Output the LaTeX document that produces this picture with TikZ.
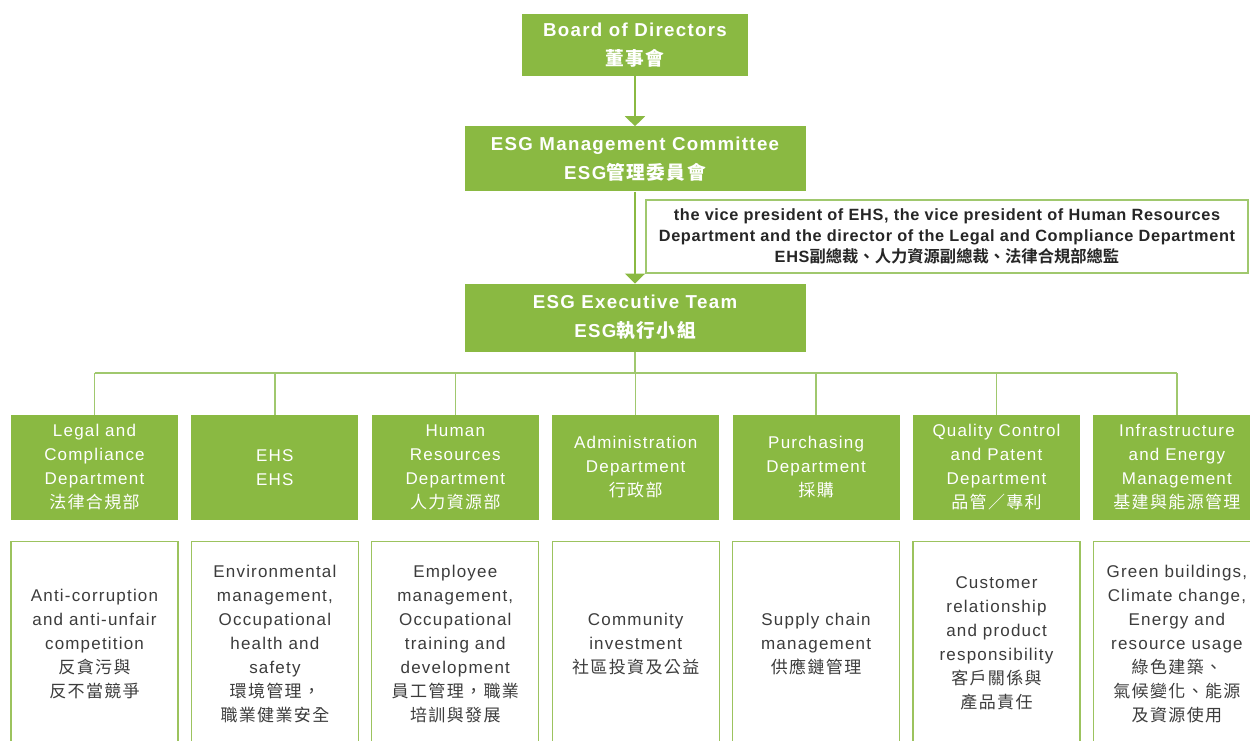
\documentclass[tikz,border=0pt]{standalone}
\usepackage{fontspec}
\setmainfont{Liberation Sans}
\newfontfamily\orgsans[LetterSpace=7]{Liberation Sans}
\newfontfamily\notesans[LetterSpace=4]{Liberation Sans}
\newfontfamily\cjk[LetterSpace=8]{Noto Sans CJK TC}
\usepackage{tikz}
\usetikzlibrary{positioning, arrows.meta}
\definecolor{esggreen}{RGB}{138,185,66}
\definecolor{esgline}{RGB}{160,200,110}
\definecolor{esgtext}{RGB}{60,60,60}
\tikzset{
  >={Triangle[width=20pt, length=10pt]},
  org flow/.style={draw=esggreen, ->, line width=1.5pt},
  org tree/.style={draw=esgline, line width=1.3pt},
  org head/.style={fill=esggreen, text=white, align=center, inner sep=0pt,
    font=\fontsize{18.7}{29}\selectfont\orgsans\bfseries},
  org note/.style={draw=esgline, line width=1.2pt, fill=white, align=center,
    inner sep=0pt, minimum width=602pt, minimum height=73pt, text=black!85,
    font=\fontsize{16.3}{21}\selectfont\notesans\bfseries},
  org dept/.style={fill=esggreen, text=white, align=center, inner sep=0pt,
    minimum width=167pt, minimum height=105pt,
    font=\fontsize{17}{24}\selectfont\orgsans},
  org duty/.style={draw=esggreen!85, line width=1.2pt, fill=white, align=center,
    inner sep=0pt, minimum width=167pt, minimum height=204pt, text=esgtext,
    font=\fontsize{17}{24}\selectfont\orgsans},
}
\begin{document}
\begin{tikzpicture}[x=1pt, y=-1pt]
 \useasboundingbox (0,0) rectangle (1250,741);
 % top of the chain
 \node[org head, minimum width=226pt, minimum height=62pt] (board) at (635,45)
   {Board of Directors\\{\cjk 董事會}};
 \node[org head, minimum width=341pt, minimum height=65pt, below=50pt of board] (mgmt)
   {ESG Management Committee\\ESG{\cjk 管理委員會}};
 \node[org head, minimum width=341pt, minimum height=68pt, below=92pt of mgmt] (exec)
   {ESG Executive Team\\ESG{\cjk 執行小組}};
 \node[org note] (members) at (947,236.5)
   {the vice president of EHS, the vice president of Human Resources\\
    Department and the director of the Legal and Compliance Department\\
    EHS{\fontspec{Noto Sans CJK TC}[BoldFont={Noto Sans CJK TC Bold}]\bfseries 副總裁、人力資源副總裁、法律合規部總監}};
 \draw[org flow] (board)--(mgmt);
 \draw[org flow] (mgmt)--(exec);
 % departments
 \node[org dept] (legal) at (94.5,467.5)
   {Legal and\\Compliance\\Department\\{\cjk 法律合規部}};
 \node[org dept, right=13pt of legal] (ehs) {EHS\\EHS};
 \node[org dept, right=13pt of ehs] (hr)
   {Human\\Resources\\Department\\{\cjk 人力資源部}};
 \node[org dept, right=13pt of hr] (admin)
   {Administration\\Department\\{\cjk 行政部}};
 \node[org dept, right=13pt of admin] (purch)
   {Purchasing\\Department\\{\cjk 採購}};
 \node[org dept, right=13pt of purch] (qc)
   {Quality Control\\and Patent\\Department\\{\cjk 品管／專利}};
 \node[org dept, right=13pt of qc] (infra)
   {Infrastructure\\and Energy\\Management\\{\cjk 基建與能源管理}};
 % their duties
 \node[org duty, below=21pt of legal] (legal duty)
   {Anti-corruption\\and anti-unfair\\competition\\{\cjk 反貪污與}\\{\cjk 反不當競爭}};
 \node[org duty, below=21pt of ehs] (ehs duty)
   {Environmental\\management,\\Occupational\\health and\\safety\\{\cjk 環境管理，}\\{\cjk 職業健業安全}};
 \node[org duty, below=21pt of hr] (hr duty)
   {Employee\\management,\\Occupational\\training and\\development\\{\cjk 員工管理，職業}\\{\cjk 培訓與發展}};
 \node[org duty, below=21pt of admin] (admin duty)
   {Community\\investment\\{\cjk 社區投資及公益}};
 \node[org duty, below=21pt of purch] (purch duty)
   {Supply chain\\management\\{\cjk 供應鏈管理}};
 \node[org duty, below=21pt of qc] (qc duty)
   {Customer\\relationship\\and product\\responsibility\\{\cjk 客戶關係與}\\{\cjk 產品責任}};
 \node[org duty, below=21pt of infra] (infra duty)
   {Green buildings,\\Climate change,\\Energy and\\resource usage\\{\cjk 綠色建築、}\\{\cjk 氣候變化、能源}\\{\cjk 及資源使用}};
 % tree
 \coordinate (bus) at (635,373);
 \draw[org tree] (exec.south)--(bus);
 \draw[org tree] (legal.north |- bus)--(infra.north |- bus);
 \foreach \d in {legal, ehs, hr, admin, purch, qc, infra}
   \draw[org tree] (\d.north |- bus)--(\d.north);
\end{tikzpicture}
\end{document}
